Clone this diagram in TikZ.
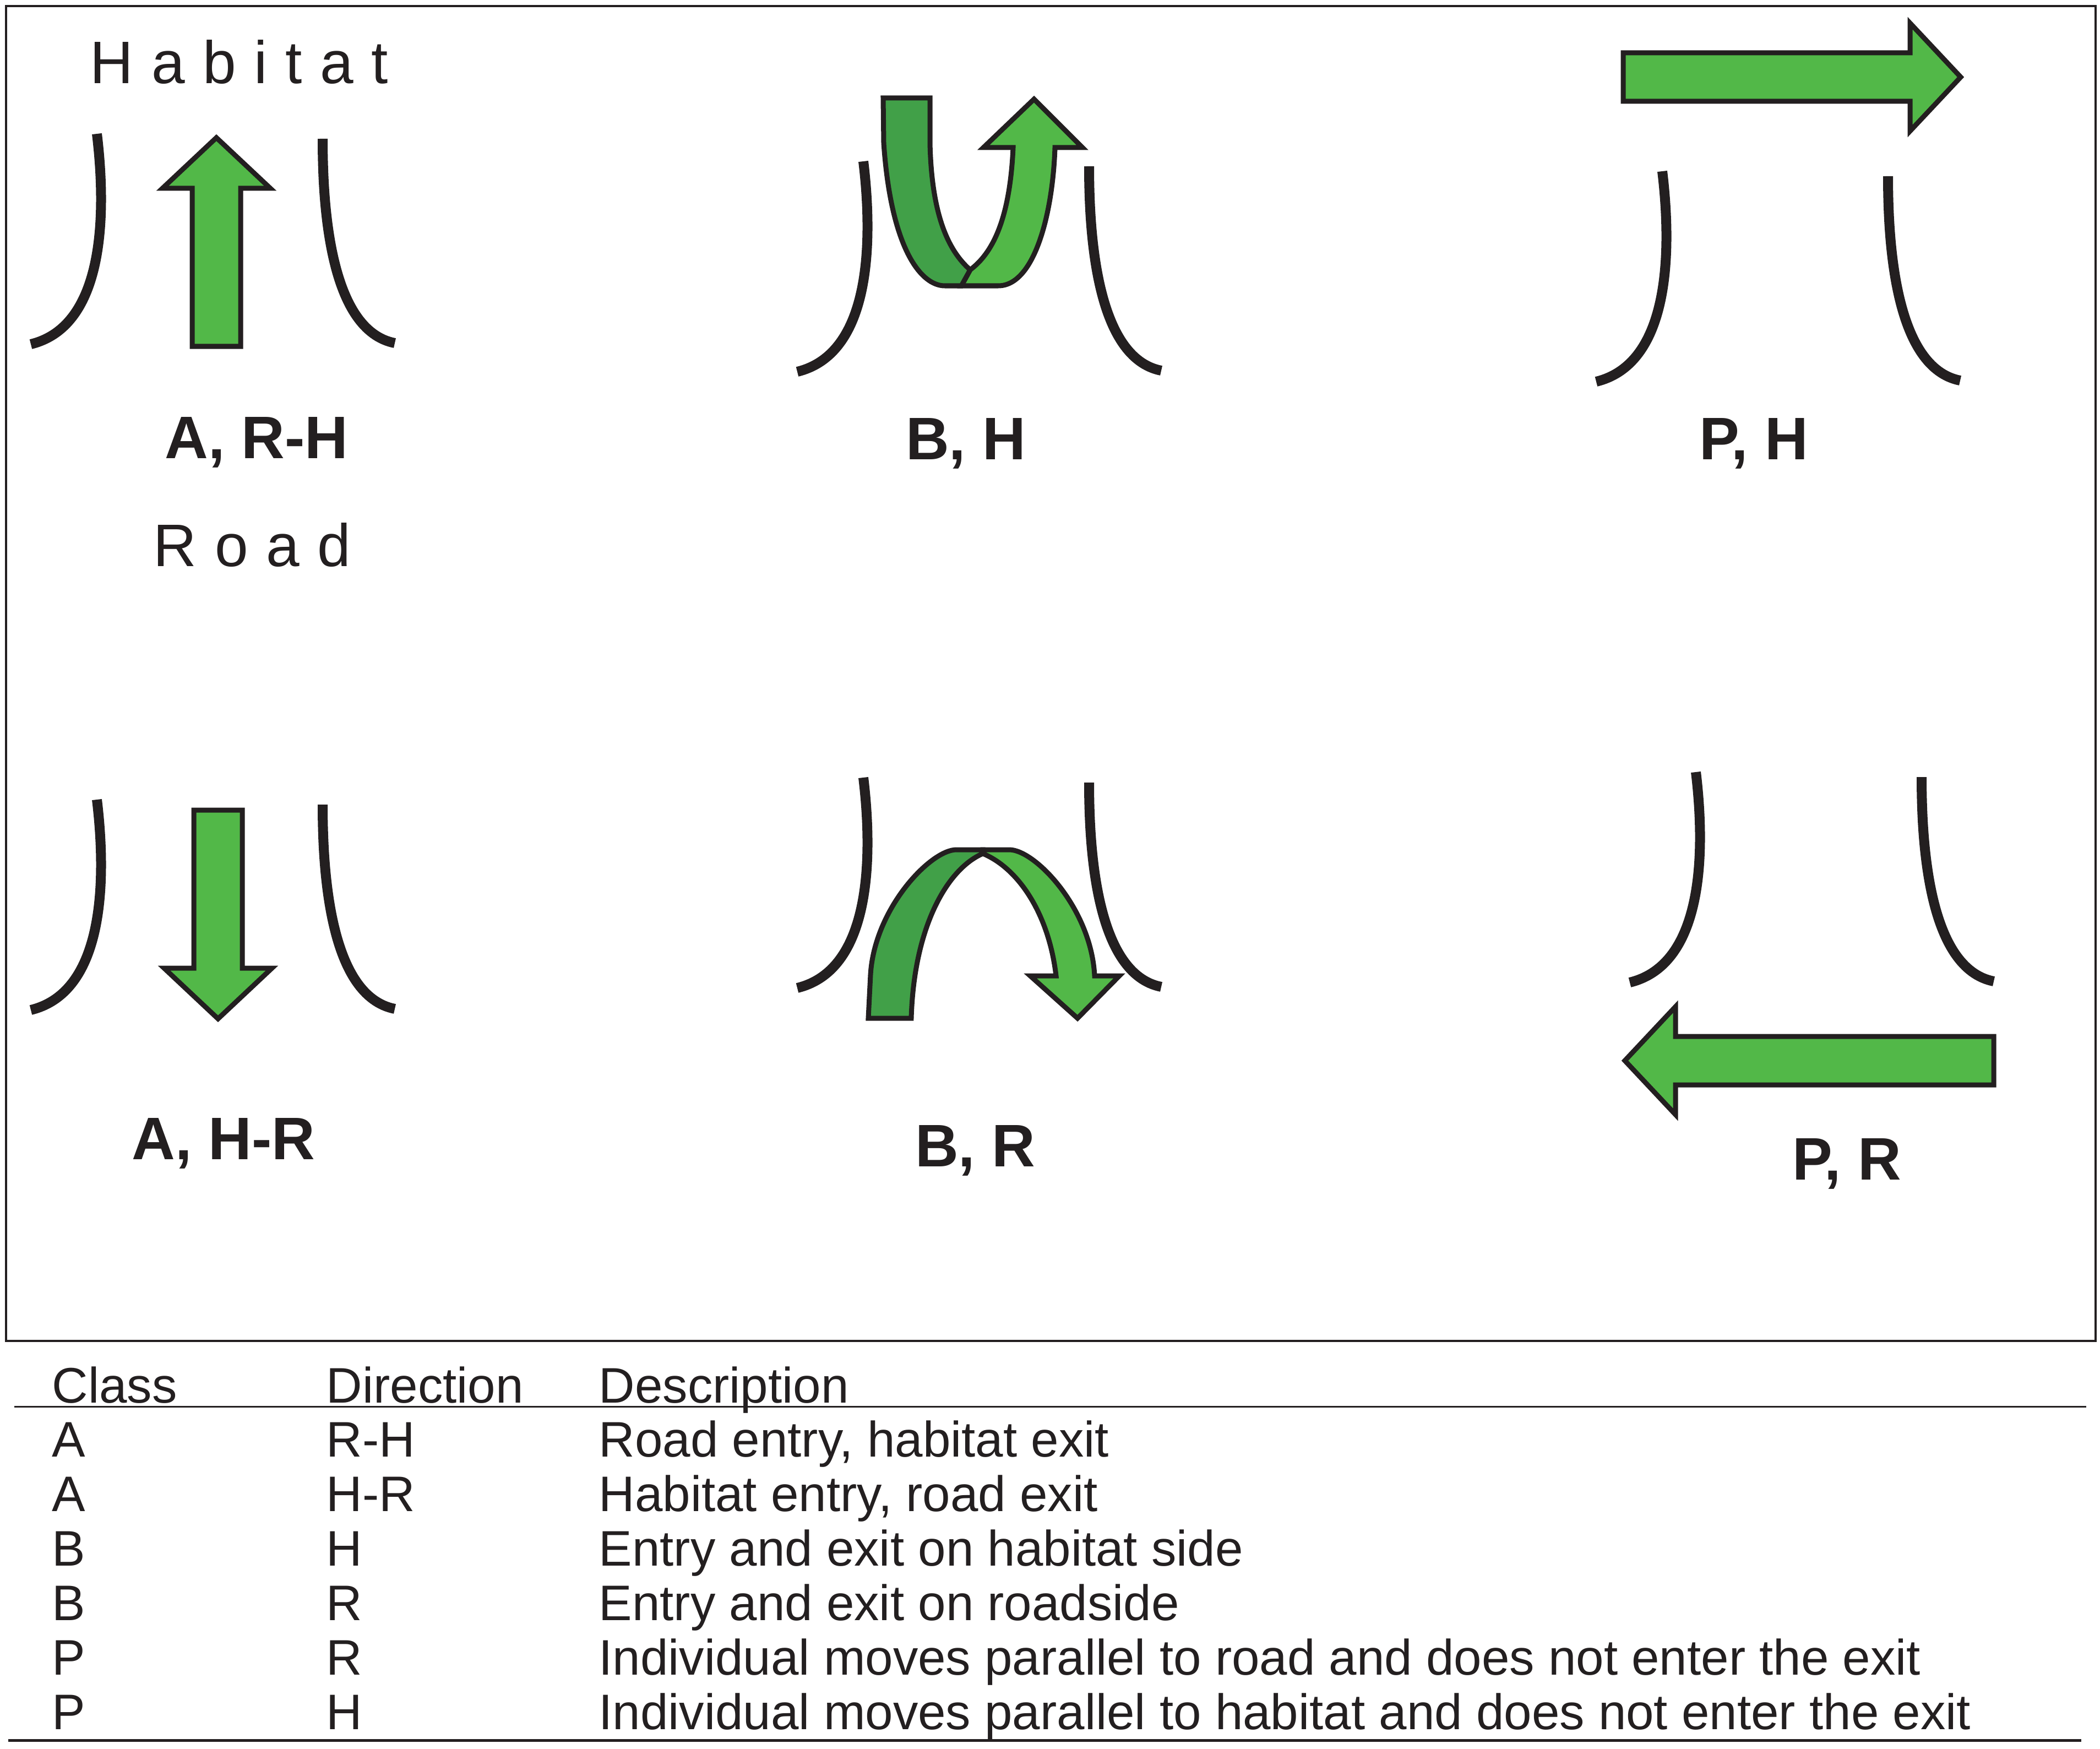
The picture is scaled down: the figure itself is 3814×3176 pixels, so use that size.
\documentclass[tikz,border=0pt]{standalone}
\usepackage{fontspec}
\setmainfont{Liberation Sans}
\newfontfamily\spacedfont[LetterSpace=30]{Liberation Sans}

\definecolor{ink}{HTML}{231F20}
\definecolor{greenlight}{HTML}{52B848}
\definecolor{greendark}{HTML}{41A048}

\newcommand{\roadedges}[1]{%
	\draw[roadedge, shift={#1}] (0,0) .. controls (14,117) and (24,347) .. (-120,382);
	\draw[roadedge, shift={#1}] (410,9) .. controls (410,137) and (424,357) .. (541,380);
}
\newcommand{\blockarrow}[3]{%
	\draw[arrowbody, shift={#1}, rotate=#2]
		(0,-44) -- (#3-92,-44) -- (#3-92,-98) -- (#3,0) -- (#3-92,98) -- (#3-92,44) -- (0,44) -- cycle;
}

\begin{document}
\begin{tikzpicture}[
		x=0.01cm,
		y=-0.01cm,
		roadedge/.style={
			draw=ink,
			line width=0.18cm,
		},
		arrowbody/.style={
			draw=ink,
			line width=0.09cm,
			line join=miter,
			fill=greenlight,
		},
		sidetext/.style={
			inner sep=0pt,
			anchor=base west,
			text=ink,
			font=\spacedfont\fontsize{31pt}{37pt}\selectfont,
		},
		casename/.style={
			inner sep=0pt,
			anchor=base,
			text=ink,
			font=\bfseries\fontsize{31pt}{37pt}\selectfont,
		},
		cell/.style={
			inner sep=0pt,
			anchor=base west,
			text=ink,
			font=\fontsize{25.8pt}{30pt}\selectfont,
		},
	]
		\useasboundingbox (0,0) rectangle (3814,3176);
		\draw[ink, line width=0.04cm] (11,11) rectangle (3806,2435);

		\node[sidetext] (habitat) at (163,152) {Habitat};
		\node[sidetext] (road) at (278,1028) {Road};

		\roadedges{(176,243)}
		\blockarrow{(393,629)}{90}{379}
		\node[casename] (arh) at (466,832) {A, R-H};

		\roadedges{(1568,293)}
		\draw[arrowbody] (1746,519) -- (1813,519) .. controls (1878,519) and (1912,390) .. (1916,268)
			-- (1966,268) -- (1878,180) -- (1786,268) -- (1840,268)
			.. controls (1834,400) and (1802,460) .. (1762,490) -- cycle;
		\draw[arrowbody, fill=greendark] (1604,178) -- (1605,260) .. controls (1618,450) and (1672,519) .. (1716,519)
			-- (1746,519) -- (1762,490) .. controls (1722,455) and (1692,390) .. (1689,260) -- (1689,178) -- cycle;
		\node[casename] (bh) at (1754,834) {B, H};

		\roadedges{(3019,311)}
		\blockarrow{(2948,140)}{0}{613}
		\node[casename] (ph) at (3185,834) {P, H};

		\roadedges{(176,1452)}
		\blockarrow{(396,1471)}{-90}{379}
		\node[casename] (ahr) at (406,2105) {A, H-R};

		\roadedges{(1568,1412)}
		\draw[arrowbody] (1785,1543) -- (1833,1543) .. controls (1880,1543) and (1982,1650) .. (1988,1772)
			-- (2033,1772) -- (1957,1849) -- (1871,1772) -- (1918,1772)
			.. controls (1905,1660) and (1850,1577) .. (1785,1550) -- cycle;
		\draw[arrowbody, fill=greendark] (1577,1849) -- (1581,1770) .. controls (1588,1650) and (1690,1543) .. (1737,1543)
			-- (1785,1543) -- (1785,1550) .. controls (1722,1577) and (1660,1680) .. (1655,1849) -- cycle;
		\node[casename] (br) at (1771,2118) {B, R};

		\roadedges{(3080,1402)}
		\blockarrow{(3621,1926)}{180}{670}
		\node[casename] (pr) at (3354,2142) {P, R};

		\node[cell] (hclass) at (94,2547) {Class};
		\node[cell] (hdir) at (592,2547) {Direction};
		\node[cell] (hdesc) at (1087,2547) {Description};
		\draw[ink, line width=0.03cm] (26,2554) -- (3789,2554);
		\foreach \cls/\dir/\desc [count=\i] in {
			A/R-H/{Road entry, habitat exit},
			A/H-R/{Habitat entry, road exit},
			B/H/{Entry and exit on habitat side},
			B/R/{Entry and exit on roadside},
			P/R/{Individual moves parallel to road and does not enter the exit},
			P/H/{Individual moves parallel to habitat and does not enter the exit}} {
			\node[cell] (cls-\i) at (94,2546+99*\i) {\cls};
			\node[cell] (dir-\i) at (592,2546+99*\i) {\dir};
			\node[cell] (desc-\i) at (1087,2546+99*\i) {\desc};
		}
		\draw[ink, line width=0.05cm] (15,3160) -- (3780,3160);
	\end{tikzpicture}
\end{document}
